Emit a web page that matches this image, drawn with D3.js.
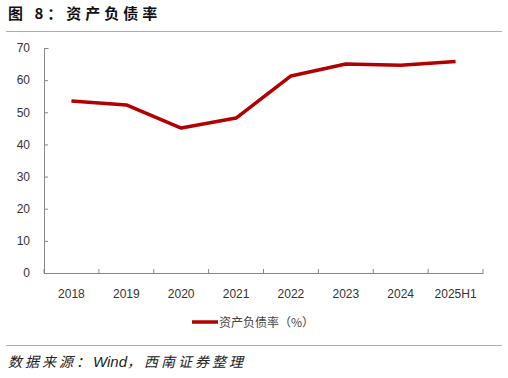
<!DOCTYPE html>
<html>
<head>
<meta charset="utf-8">
<script src="https://cdn.jsdelivr.net/npm/d3@7"></script>
<style>
    body { margin: 0; background: #fff; }
    text { font-family: "Liberation Sans", "Noto Sans CJK SC", sans-serif; }
</style>
</head>
<body>
<div id="vis"></div>
<script>
// Chart data
var years = ['2018', '2019', '2020', '2021', '2022', '2023', '2024', '2025H1'];
var debtRatio = [53.5, 52.3, 45.1, 48.2, 61.3, 65.0, 64.6, 65.8];
var yTicks = [0, 10, 20, 30, 40, 50, 60, 70];

var width = 508, height = 378;
var margin = { left: 44, right: 25, top: 48, bottom: 105 };
var drawWidth = width - margin.left - margin.right;
var drawHeight = height - margin.top - margin.bottom;

var svg = d3.select('#vis').append('svg')
    .attr('width', width)
    .attr('height', height);

// Title and rules
svg.append('text')
    .attr('x', 8).attr('y', 19)
    .style('font-size', '15px').style('font-weight', 'bold')
    .style('letter-spacing', '4px')
    .style('font-family', '"Noto Sans CJK SC", sans-serif')
    .attr('fill', '#111')
    .text('图 8：资产负债率');
svg.append('line')
    .attr('x1', 6).attr('x2', 502).attr('y1', 31.5).attr('y2', 31.5)
    .attr('stroke', '#d6a468').attr('stroke-width', 1.2);
svg.append('line')
    .attr('x1', 6).attr('x2', 502).attr('y1', 345.5).attr('y2', 345.5)
    .attr('stroke', '#d6a468').attr('stroke-width', 1.2);
var src = svg.append('text')
    .attr('x', 8).attr('y', 367)
    .style('font-size', '14px').style('font-style', 'italic')
    .style('font-family', '"Noto Sans CJK SC", sans-serif')
    .attr('fill', '#222');
src.append('tspan').style('letter-spacing', '3px').text('数据来源：');
src.append('tspan').style('font-family', '"Liberation Sans", sans-serif').style('font-size', '15px').text('Wind');
src.append('tspan').style('letter-spacing', '3px').text('，西南证券整理');

var g = svg.append('g')
    .attr('transform', 'translate(' + margin.left + ',' + margin.top + ')');

var xScale = d3.scaleBand().domain(years).range([0, drawWidth]);
var yScale = d3.scaleLinear().domain([0, 70]).range([drawHeight, 0]);

// Y axis
var yAxis = g.append('g')
    .call(d3.axisLeft(yScale).tickValues(yTicks).tickSize(4).tickPadding(10));
// X axis
var xAxis = g.append('g')
    .attr('transform', 'translate(0,' + drawHeight + ')')
    .call(d3.axisBottom(xScale).tickSize(0).tickPadding(16));
// tick marks at band boundaries
g.append('g').selectAll('line')
    .data(years.concat(['end']))
    .enter().append('line')
    .attr('x1', function(d, i) { return i * xScale.step(); })
    .attr('x2', function(d, i) { return i * xScale.step(); })
    .attr('y1', drawHeight).attr('y2', drawHeight - 4)
    .attr('stroke', '#888');

[xAxis, yAxis].forEach(function(ax) {
    ax.select('.domain').attr('stroke', '#888');
    ax.selectAll('.tick line').attr('stroke', '#888');
    ax.selectAll('text').style('font-size', '12px').attr('fill', '#333')
        .style('font-family', '"Liberation Sans", sans-serif');
});
// y axis: flip ticks to inside
yAxis.selectAll('.tick line').attr('x2', 4);
yAxis.select('.domain').attr('d', 'M4.5,0.5H0.5V' + (drawHeight + 0.5));

// Line
var line = d3.line()
    .x(function(d, i) { return xScale(years[i]) + xScale.bandwidth() / 2; })
    .y(function(d) { return yScale(d); });
g.append('path')
    .datum(debtRatio)
    .attr('d', line)
    .attr('fill', 'none')
    .attr('stroke', '#b00000')
    .attr('stroke-width', 3.5)
    .attr('stroke-linejoin', 'round');

// Legend
var legend = svg.append('g').attr('transform', 'translate(192,322)');
legend.append('line')
    .attr('x1', 0).attr('x2', 26).attr('y1', 0).attr('y2', 0)
    .attr('stroke', '#b00000').attr('stroke-width', 3.5);
legend.append('text')
    .attr('x', 27).attr('y', 4.5)
    .style('font-size', '12px')
    .style('font-family', '"Noto Sans CJK SC", sans-serif')
    .attr('fill', '#444')
    .text('资产负债率（%）');
</script>
</body>
</html>
